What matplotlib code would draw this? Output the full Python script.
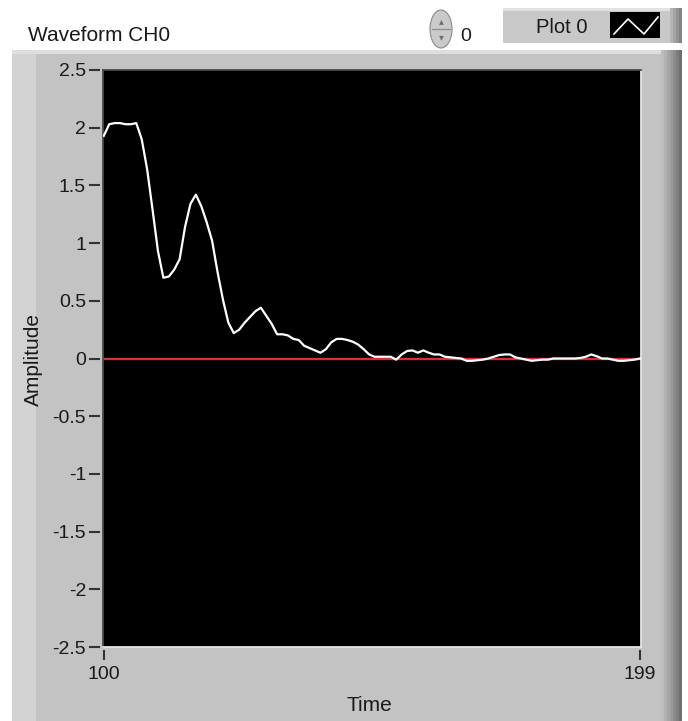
import matplotlib
matplotlib.use("Agg")
import matplotlib.pyplot as plt
from matplotlib.patches import Rectangle, Ellipse
from matplotlib.lines import Line2D
import matplotlib.transforms as mtransforms
import numpy as np

# ---- data ----
time = list(range(100, 200))
amplitude = [
    1.93, 2.03, 2.04, 2.04, 2.03, 2.03, 2.04, 1.90, 1.64, 1.29,
    0.93, 0.70, 0.71, 0.77, 0.86, 1.14, 1.34, 1.42, 1.32, 1.18,
    1.02, 0.75, 0.51, 0.31, 0.22, 0.25, 0.31, 0.36, 0.41, 0.44,
    0.37, 0.30, 0.21, 0.21, 0.20, 0.17, 0.16, 0.11, 0.09, 0.07,
    0.05, 0.08, 0.14, 0.17, 0.17, 0.16, 0.145, 0.12, 0.08, 0.035,
    0.015, 0.015, 0.015, 0.015, -0.01, 0.035, 0.065, 0.07, 0.05, 0.07,
    0.05, 0.035, 0.035, 0.015, 0.01, 0.005, 0.0, -0.02, -0.02, -0.015,
    -0.01, 0.0, 0.015, 0.03, 0.035, 0.035, 0.01, 0.0, -0.01, -0.02,
    -0.015, -0.01, -0.01, 0.0, 0.0, 0.0, 0.0, 0.0, 0.005, 0.015,
    0.035, 0.02, 0.0, 0.0, -0.01, -0.02, -0.02, -0.015, -0.01, 0.0,
]
y_ticks = [2.5, 2, 1.5, 1, 0.5, 0, -0.5, -1, -1.5, -2, -2.5]
y_labels = ["2.5", "2", "1.5", "1", "0.5", "0", "-0.5", "-1", "-1.5", "-2", "-2.5"]
x_ticks = [100, 199]
x_labels = ["100", "199"]
title = "Waveform CH0"
legend_label = "Plot 0"
x_title = "Time"
y_title = "Amplitude"

W, H = 688, 721
fig = plt.figure(figsize=(W / 100, H / 100), dpi=100)
fig.patch.set_facecolor("white")
plt.rcParams["font.family"] = ["Liberation Sans", "DejaVu Sans"]
TXT = "#1a1a1a"


def rect(x0, y0, x1, y1, color, z=0, **kw):
    # pixel box (top-left origin) -> figure fraction
    r = Rectangle((x0 / W, 1 - y1 / H), (x1 - x0) / W, (y1 - y0) / H,
                  transform=fig.transFigure, facecolor=color, edgecolor="none",
                  zorder=z, **kw)
    fig.patches.append(r)
    return r

# panel
rect(12, 53, 682, 721, "#c3c3c3", z=0)
rect(12, 53, 36, 721, "#d2d2d2", z=0.1)
rect(12, 50, 682, 54, "#dedede", z=0.2)
for i, c in enumerate(["#bdbdbd", "#b2b2b2", "#a6a6a6", "#9a9a9a", "#8c8c8c", "#7e7e7e", "#6e6e6e"]):
    rect(661 + i * 3, 50, 664 + i * 3, 721, c, z=0.3)

# title
fig.text(28 / W, 1 - 41 / H, title, fontsize=15, color=TXT, va="baseline", ha="left")

# numeric control (spinner + box)
sp = Ellipse((441 / W, 1 - 29 / H), 22 / W, 38 / H, transform=fig.transFigure,
             facecolor="#cacaca", edgecolor="#8a8a8a", lw=0.8, zorder=2)
fig.patches.append(sp)
fig.lines.append(Line2D([432 / W, 450 / W], [1 - 29 / H, 1 - 29 / H], transform=fig.transFigure,
                        color="#8a8a8a", lw=0.8, zorder=3))
fig.text(441 / W, 1 - 21 / H, "\u25B4", fontsize=7, color="#707070", ha="center", va="center",
         family=["DejaVu Sans"], zorder=3)
fig.text(441 / W, 1 - 37 / H, "\u25BE", fontsize=7, color="#707070", ha="center", va="center",
         family=["DejaVu Sans"], zorder=3)
rect(453, 13, 500, 45, "white", z=2)
fig.text(460 / W, 1 - 41 / H, "0", fontsize=14, color=TXT, va="baseline", ha="left")

# legend box
rect(503, 8, 682, 43, "#c8c8c8", z=2)
rect(503, 8, 682, 11, "#e2e2e2", z=2.1)
for i, c in enumerate(["#b4b4b4", "#a4a4a4", "#949494", "#848484"]):
    rect(670 + i * 3, 8, 673 + i * 3, 43, c, z=2.2)
fig.text(536 / W, 1 - 33 / H, legend_label, fontsize=14.5, color=TXT, va="baseline", ha="left")
rect(610, 12, 660, 38, "black", z=3)
zx = np.array([614, 628, 644, 658]) / W
zy = 1 - np.array([34, 19, 34, 17]) / H
fig.lines.append(Line2D(zx, zy, transform=fig.transFigure, color="white", lw=1.2, zorder=4))

# plot area
ax_l, ax_t, ax_r, ax_b = 103, 70, 641, 647
ax = fig.add_axes([ax_l / W, 1 - ax_b / H, (ax_r - ax_l) / W, (ax_b - ax_t) / H])
ax.set_facecolor("black")
ax.set_zorder(5)
ax.axhline(0, color="#d83030", lw=1.7, zorder=2)
ax.plot(time, amplitude, color="white", lw=1.6, zorder=3)
ax.set_xlim(time[0] - 0.15, time[-1] + 0.2)
ax.set_ylim(-2.5, 2.5)
ax.set_yticks(y_ticks)
ax.set_yticklabels(y_labels)
ax.set_xticks(x_ticks)
ax.set_xticklabels(x_labels)
ax.tick_params(axis="y", length=0, labelsize=14, labelcolor=TXT, pad=12.2)
ax.tick_params(axis="x", length=0, labelsize=14, labelcolor=TXT, pad=14)
for s in ["top", "left"]:
    ax.spines[s].set_color("#4a4a4a")
for s in ["right", "bottom"]:
    ax.spines[s].set_color("#e4e4e4")
for s in ax.spines.values():
    s.set_linewidth(1.3)

# detached tick marks (LabVIEW style)
aw, ah = ax_r - ax_l, ax_b - ax_t
ytr = mtransforms.blended_transform_factory(ax.transAxes, ax.transData)
for v in y_ticks:
    ax.plot([(90 - ax_l) / aw, (99 - ax_l) / aw], [v, v], transform=ytr, color="#333333",
            lw=1.5, clip_on=False, zorder=6)
xtr = mtransforms.blended_transform_factory(ax.transData, ax.transAxes)
for v in x_ticks:
    ax.plot([v, v], [-(651 - ax_b) / ah, -(659 - ax_b) / ah],
            transform=xtr, color="#333333", lw=1.5, clip_on=False, zorder=6)

fig.text(369 / W, 1 - 711 / H, x_title, fontsize=15, color=TXT, ha="center", va="baseline")
fig.text(33 / W, 1 - 359 / H, y_title, fontsize=15, color=TXT, ha="center",
         va="center", rotation=90)

fig.savefig("out.png", dpi=100, facecolor="white")
